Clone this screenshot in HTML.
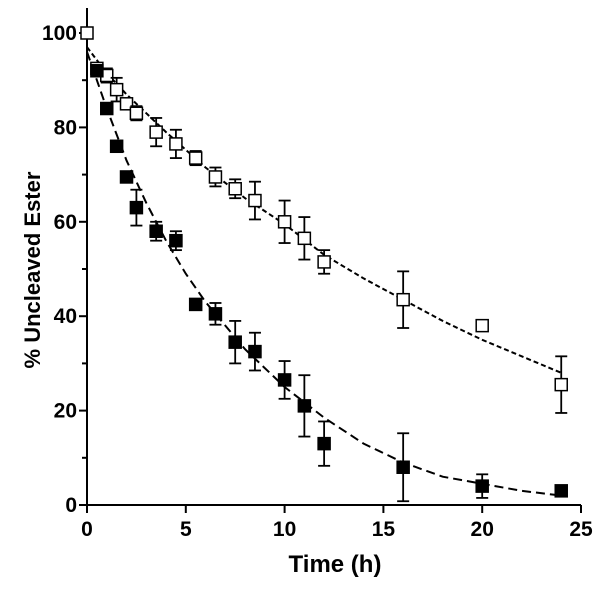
<!DOCTYPE html>
<html><head><meta charset="utf-8"><style>
body{margin:0;background:#fff}
svg{display:block;font-family:"Liberation Sans",Arial,sans-serif;font-weight:bold}
</style></head><body>
<svg id="chart" width="602" height="590" viewBox="0 0 602 590" xmlns="http://www.w3.org/2000/svg">
<g id="axes"></g>
<g id="curves"></g>
<g id="marks"></g>
<text x="335" y="572" text-anchor="middle" font-size="24">Time (h)</text>
<text transform="translate(40,270) rotate(-90)" text-anchor="middle" font-size="22">% Uncleaved Ester</text>
</svg>
<script>
const xTicks=[0,5,10,15,20,25];
const yTicks=[0,20,40,60,80,100];
const yMinor=[10,30,50,70,90];
const openT=[0,0.5,1,1.5,2,2.5,3.5,4.5,5.5,6.5,7.5,8.5,10,11,12,16,20,24];
const openY=[100,92.5,91,88,85,83,79,76.5,73.5,69.5,67,64.5,60,56.5,51.5,43.5,38,25.5];
const openErr=[0,1,1.5,2.5,1,1.5,3,3,1.5,2,2,4,4.5,4.5,2.5,6,1,6];
const fillT=[0.5,1,1.5,2,2.5,3.5,4.5,5.5,6.5,7.5,8.5,10,11,12,16,20,24];
const fillY=[92,84,76,69.5,63,58,56,42.5,40.5,34.5,32.5,26.5,21,13,8,4,3];
const fillErr=[0.5,1,1,1,3.8,2,2,1,2.3,4.5,4,4,6.5,4.7,7.2,2.5,0.5];
const openFitT=[0,1,2,4,6,8,10,12,14,16,18,20,22,24];
const openFitY=[97,91.5,87,79,71.5,65,59.5,53,48,43.5,39,35,31.5,28];
const fillFitT=[0,0.5,1,2,3,4,5,6,8,10,12,14,16,18,20,22,24];
const fillFitY=[96,90,84,73,64,56,49,43,33,25,18.5,13,9,6,4.5,3,2];

const NS="http://www.w3.org/2000/svg";
const X=v=>87+v*(581-87)/25;
const Y=v=>505-v*4.72;
function mk(tag,at,parent){const e=document.createElementNS(NS,tag);for(const k in at)e.setAttribute(k,at[k]);parent.appendChild(e);return e;}
const ax=document.getElementById('axes');
let l=mk('line',{x1:87,y1:505,x2:581,y2:505,stroke:'#000','stroke-width':2},ax);


l=mk('line',{x1:87,y1:505,x2:87,y2:8,stroke:'#000','stroke-width':2},ax);


xTicks.forEach(t=>{
  mk('line',{x1:X(t),y1:505,x2:X(t),y2:513,stroke:'#000','stroke-width':2},ax);
  const tx=mk('text',{x:X(t),y:536,'text-anchor':'middle','font-size':21},ax);tx.textContent=t;
  
  
});
yTicks.forEach(t=>{
  mk('line',{x1:79,y1:Y(t),x2:87,y2:Y(t),stroke:'#000','stroke-width':2},ax);
  const tx=mk('text',{x:77,y:Y(t)+7,'text-anchor':'end','font-size':21},ax);tx.textContent=t;
  
  
});
yMinor.forEach(t=>mk('line',{x1:82,y1:Y(t),x2:87,y2:Y(t),stroke:'#000','stroke-width':2},ax));
const cv=document.getElementById('curves');
function curve(ts,ys,dash,name){
  const p=mk('polyline',{points:ts.map((t,i)=>X(t)+','+Y(ys[i])).join(' '),fill:'none',stroke:'#000','stroke-width':2,'stroke-dasharray':dash},cv);
  
  
}
curve(openFitT,openFitY,'5 3','open-fit-curve');
curve(fillFitT,fillFitY,'9 5','filled-fit-curve');
const mg=document.getElementById('marks');
function series(ts,ys,es,filled,name){
  ts.forEach((t,i)=>{
    const g=mk('g',{},mg);
    
    
    const x=X(t);
    if(es[i]>0.6){
      const y1=Y(ys[i]+es[i]),y2=Y(ys[i]-es[i]);
      mk('line',{x1:x,y1:y1,x2:x,y2:y2,stroke:'#000','stroke-width':1.8},g);
      mk('line',{x1:x-6,y1:y1,x2:x+6,y2:y1,stroke:'#000','stroke-width':1.8},g);
      mk('line',{x1:x-6,y1:y2,x2:x+6,y2:y2,stroke:'#000','stroke-width':1.8},g);
    }
    mk('rect',{x:x-6,y:Y(ys[i])-6,width:12,height:12,fill:filled?'#000':'#fff',stroke:'#000','stroke-width':1.5},g);
  });
}
series(openT,openY,openErr,false,'open-point');
series(fillT,fillY,fillErr,true,'filled-point');
</script>
</body></html>
